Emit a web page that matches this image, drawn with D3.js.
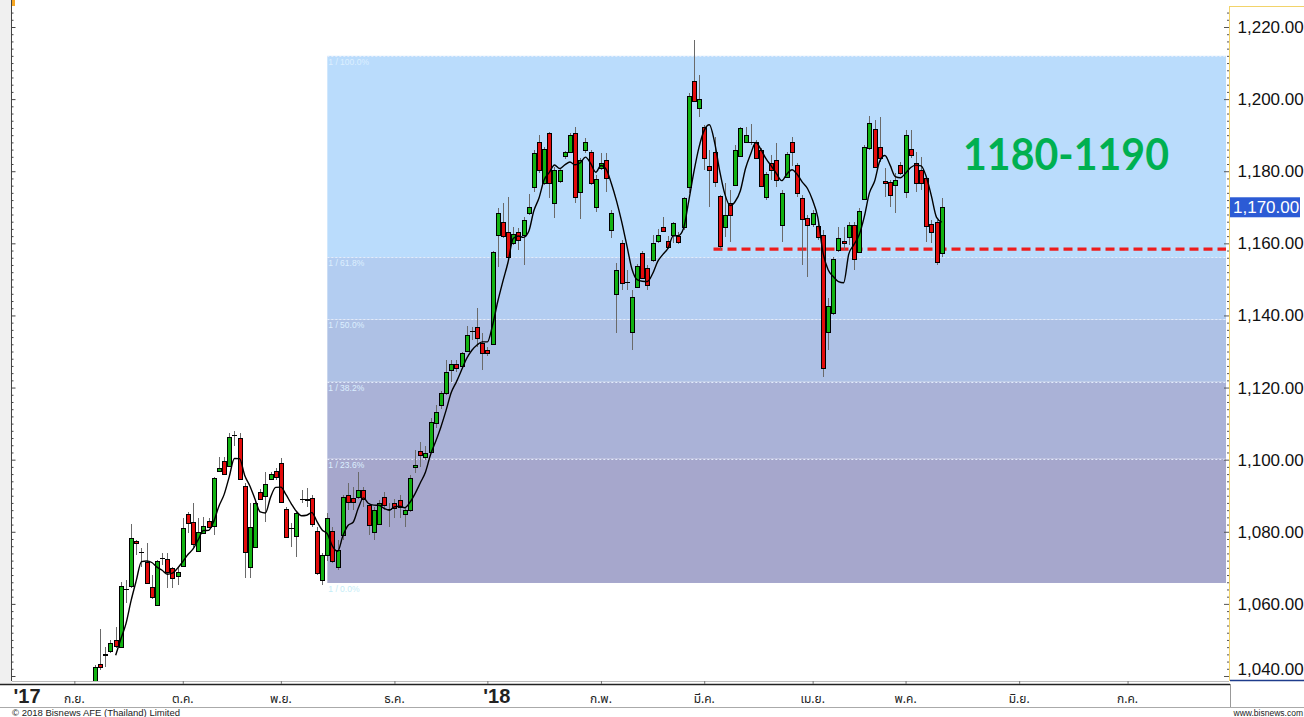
<!DOCTYPE html>
<html>
<head>
<meta charset="utf-8">
<script src="https://cdn.jsdelivr.net/npm/d3@7"></script>
<style>
html, body { margin: 0; padding: 0; background: #fff; overflow: hidden; }
svg { display: block; font-family: "Liberation Sans", Arial, sans-serif; }
</style>
</head>
<body>
<script>
// daily candles (one value per trading day)
var opens = [
  1037, 1043.4, 1046.1, 1047, 1050, 1048.1, 1064, 1065, 1077.5, 1074.4,
  1071.6, 1064.7, 1059.7, 1072.7, 1072.5, 1070, 1067.8, 1070.5, 1085, 1082.7,
  1074.7, 1079.7, 1083, 1081.6, 1096.9, 1099.6, 1098.3, 1106.8, 1106, 1092.7,
  1070.2, 1075.8, 1091, 1089.9, 1094.7, 1096.9, 1099.1, 1086.4, 1081.1, 1078.8,
  1089.1, 1089.1, 1089.4, 1080.2, 1066.6, 1073.6, 1080.2, 1070.2, 1079.1, 1090.2,
  1089.4, 1089.7, 1091.6, 1087.4, 1080, 1082.2, 1089.7, 1086.4, 1088, 1088.8,
  1085, 1086.1, 1098, 1102.4, 1100.8, 1102.1, 1110.2, 1115.2, 1118.5, 1124.9,
  1126.5, 1126, 1130.2, 1135.7, 1136.8, 1132.4, 1130.4, 1132.1, 1162.3, 1165.9,
  1163.1, 1160.1, 1163.1, 1162.3, 1168.4, 1175.6, 1188.1, 1176.7, 1190.6, 1171.2,
  1177.3, 1184.2, 1185.3, 1190.6, 1174.2, 1185.9, 1185.3, 1170.1, 1180.9, 1183.1,
  1163.7, 1146, 1160.1, 1149.3, 1135.4, 1147.9, 1157.3, 1153.2, 1155.4, 1160.7,
  1164.5, 1160.7, 1162.3, 1162, 1164.5, 1175.6, 1205, 1197.5, 1192.3, 1181.5,
  1185.3, 1173.1, 1164.5, 1171.2, 1176.2, 1184.2, 1188.1, 1188.1, 1188.1, 1185.9,
  1172.9, 1182.3, 1183.1, 1165.1, 1178.4, 1188.1, 1181.7, 1172.6, 1167, 1165.4,
  1164.8, 1162.3, 1135.4, 1140.7, 1158.2, 1160.7, 1161.8, 1165.1, 1157.6, 1172.3,
  1186.4, 1191.7, 1186.7, 1177.3, 1177, 1176.2, 1181.7, 1174.2, 1186.2, 1182.3,
  1180.3, 1178.1, 1165.4, 1165.9, 1157.3
];
var highs = [
  1043, 1053, 1048.1, 1050, 1053.6, 1066, 1066.6, 1082.2, 1077.8, 1075.5,
  1076.9, 1068, 1072.2, 1074.1, 1074.1, 1070.3, 1070.3, 1083.8, 1085.5, 1088,
  1083.8, 1084, 1083.8, 1095.2, 1100.8, 1100.8, 1107.4, 1108, 1107.4, 1093.5,
  1088, 1088.8, 1092, 1096.6, 1096.6, 1097.7, 1100.5, 1086.9, 1082.5, 1085.5,
  1091.6, 1092.1, 1090.2, 1081.3, 1074.1, 1085.2, 1081.3, 1077.7, 1090.2, 1093.5,
  1092.4, 1096.6, 1092.4, 1088, 1086.9, 1088.8, 1091, 1088, 1089.1, 1090.2,
  1086.9, 1095.8, 1102.7, 1104.9, 1103.8, 1111.5, 1115.2, 1119, 1127.7, 1127.7,
  1127.7, 1129.9, 1137.1, 1136.8, 1142.1, 1135.1, 1131.3, 1157.9, 1169.8, 1171.2,
  1172.9, 1164.5, 1164.3, 1167.3, 1173.7, 1185.9, 1190.1, 1186.7, 1190.9, 1181.2,
  1180.6, 1185.6, 1190.6, 1192.3, 1183.7, 1189.2, 1185.9, 1179, 1185, 1185,
  1169.3, 1154.6, 1160.9, 1152.6, 1147.1, 1154.3, 1158, 1154, 1162.3, 1164,
  1167.3, 1162, 1165.9, 1163.1, 1172.9, 1201.7, 1216.4, 1206.7, 1192.8, 1185.9,
  1189.5, 1173.4, 1176.7, 1174.8, 1187.3, 1192.3, 1192.3, 1193.1, 1188.7, 1186.4,
  1179.8, 1184.5, 1187.8, 1174.8, 1185.3, 1189.5, 1182.3, 1173.4, 1167.9, 1169.3,
  1165.6, 1163.7, 1144.8, 1156.2, 1164.5, 1164.5, 1165.9, 1165.9, 1169.8, 1187.3,
  1195.3, 1194.2, 1195, 1180.9, 1177.6, 1179.5, 1182.6, 1191.4, 1191.4, 1185.3,
  1184, 1178.4, 1166.5, 1166.5, 1172.6
];
var lows = [
  1035, 1041.7, 1042.5, 1046.4, 1047.8, 1047.8, 1060.3, 1064.5, 1073.6, 1070.3,
  1065.6, 1061.4, 1059.5, 1070.8, 1064.4, 1064.4, 1065.3, 1070.3, 1079.7, 1075.8,
  1074.4, 1079.4, 1081, 1079, 1096.6, 1095.8, 1098, 1103.8, 1094.4, 1067.2,
  1067.2, 1075.5, 1088.8, 1082.7, 1094.4, 1094.4, 1088, 1078.3, 1075.8, 1073,
  1088, 1086.9, 1081.3, 1068, 1065.3, 1072, 1071.4, 1069.4, 1077.7, 1086,
  1086, 1089.1, 1086.9, 1079.1, 1077.7, 1081.9, 1086, 1081.3, 1083.8, 1083.8,
  1081.3, 1085.5, 1096.3, 1098, 1099.9, 1102.1, 1108.8, 1114, 1118, 1121.6,
  1124.3, 1125.7, 1129.9, 1133.2, 1131.3, 1124.9, 1128.7, 1131.8, 1153.4, 1161.5,
  1155.4, 1159.5, 1158.2, 1154, 1167.9, 1174.2, 1179.5, 1176.2, 1172.6, 1167,
  1176.7, 1183.4, 1185, 1171.2, 1166.8, 1185, 1176.2, 1168.7, 1180.3, 1174.2,
  1161.5, 1135.1, 1147.1, 1147.1, 1130.4, 1147.6, 1150, 1147.1, 1154.8, 1160.1,
  1163.1, 1158.5, 1160.1, 1159.8, 1163.7, 1174, 1199.2, 1195, 1180.3, 1170.1,
  1175.6, 1158.2, 1161.8, 1160.4, 1175.9, 1184, 1187.8, 1187.3, 1183.4, 1175.6,
  1172, 1177.6, 1175.6, 1160.4, 1178.1, 1181.5, 1172.9, 1154, 1150.7, 1164.5,
  1160.9, 1122.9, 1130.4, 1140.1, 1157.6, 1158.2, 1159.5, 1152.6, 1157.3, 1172,
  1185.9, 1180.9, 1182.6, 1172.9, 1170.1, 1168.4, 1179, 1172.6, 1183.7, 1174.2,
  1174.8, 1160.4, 1160.1, 1154, 1156.2
];
var closes = [
  1042.5, 1042.5, 1046.2, 1049.2, 1048.3, 1065, 1064, 1078.3, 1077, 1074.4,
  1065.8, 1061.9, 1071.9, 1072.7, 1068.9, 1067.2, 1068.9, 1081, 1082.5, 1076.6,
  1080, 1081.6, 1081.3, 1094.9, 1097.7, 1096, 1106.3, 1106.8, 1094.7, 1074.4,
  1081.3, 1088, 1089.1, 1093.3, 1096, 1095.2, 1088.3, 1078.6, 1081.1, 1085.2,
  1089.1, 1089, 1082.2, 1068.6, 1073.6, 1083.8, 1071.9, 1075, 1089.7, 1088.3,
  1088.3, 1091.6, 1089.1, 1081.9, 1086.1, 1088, 1087.4, 1086.4, 1086.6, 1086.9,
  1086.1, 1094.9, 1098.5, 1101.3, 1101.9, 1110.5, 1113.2, 1118.5, 1124.3, 1126.5,
  1125.4, 1129.6, 1134.6, 1135.7, 1133.8, 1129.6, 1129.6, 1157.6, 1168.4, 1162,
  1156.2, 1162.6, 1160.9, 1166.5, 1170.1, 1185.1, 1180.3, 1186.2, 1176.7, 1180.3,
  1180.3, 1185.3, 1190.1, 1172.9, 1183.1, 1188.1, 1176.7, 1177.8, 1182.3, 1178.1,
  1168.4, 1152.6, 1149, 1149.3, 1145.1, 1153.7, 1150.4, 1148.5, 1160.1, 1162.3,
  1163.4, 1159, 1165.6, 1160.4, 1172.6, 1200.9, 1199.5, 1200, 1183.7, 1180.3,
  1177, 1159.3, 1167.9, 1167.9, 1185.9, 1192, 1190.1, 1188.1, 1183.7, 1175.9,
  1179.2, 1180.3, 1177.6, 1174, 1184.8, 1185.3, 1174, 1166.8, 1165.1, 1168.4,
  1161.8, 1125.4, 1142.6, 1155.7, 1161.5, 1160.1, 1165.1, 1155.7, 1169, 1186.7,
  1193.4, 1181.2, 1183.7, 1176.7, 1173.4, 1177.6, 1179.5, 1190.1, 1184.5, 1176.7,
  1176.7, 1164.8, 1163.1, 1154.8, 1170.1
];

// time axis: position (trading-day index) and label of each month
var monthIdx = [-15, -4, 17, 36, 58, 76, 98, 118, 139, 157, 179, 200];
var monthLabels = ["'17", 'ก.ย.', 'ต.ค.', 'พ.ย.', 'ธ.ค.', "'18", 'ก.พ.', 'มี.ค.', 'เม.ย.', 'พ.ค.', 'มิ.ย.', 'ก.ค.'];

// price axis labels
var priceTicks = [1040, 1060, 1080, 1100, 1120, 1140, 1160, 1180, 1200, 1220];

// fibonacci retracement drawn from the December low to the top
var fibLow = 1065.8, fibHigh = 1212, fibStartIdx = 45;
var fibLevels = [0, 0.236, 0.382, 0.5, 0.618, 1];
var fibColors = ['#a6a7cc', '#aab2d7', '#aec1e5', '#b3cdf1', '#badcfc'];

// support line and target zone text
var supportLevel = 1158.4, supportStartIdx = 119.8;
var lastPrice = 1170;
var targetText = '1180-1190';
var maPeriod = 5;

var W = 1304, H = 717;
var plotL = 12, plotR = 1229, plotB = 681;

var x = d3.scaleLinear().domain([0, 164]).range([95, 941.7]);
var y = d3.scaleLinear().domain([1040, 1220]).range([676, 27]);

var svg = d3.select('body').append('svg')
    .attr('width', W)
    .attr('height', H);

// grey strip at the far left
svg.append('rect').attr('x', 0).attr('y', 0).attr('width', plotL).attr('height', 684).attr('fill', '#f0f0f0');
svg.append('rect').attr('x', 11).attr('y', 0).attr('width', 4).attr('height', 6).attr('fill', '#f5a623');

svg.append('clipPath').attr('id', 'plot')
  .append('rect').attr('x', plotL).attr('y', 0).attr('width', plotR - plotL).attr('height', plotB);

var g = svg.append('g').attr('clip-path', 'url(#plot)');

// fib zones
var fy = function(l) { return y(fibLow + (fibHigh - fibLow) * l); };
var fibX = x(fibStartIdx);
for (var i = 0; i < fibLevels.length - 1; i++) {
  g.append('rect')
    .attr('x', fibX)
    .attr('y', fy(fibLevels[i + 1]))
    .attr('width', 1226 - fibX)
    .attr('height', fy(fibLevels[i]) - fy(fibLevels[i + 1]))
    .attr('fill', fibColors[i]);
}
fibLevels.forEach(function(l) {
  if (l > 0) {
    g.append('line')
      .attr('x1', fibX).attr('x2', 1226)
      .attr('y1', Math.round(fy(l)) + 0.5).attr('y2', Math.round(fy(l)) + 0.5)
      .attr('stroke', '#e4ecfb').attr('stroke-width', 1).attr('stroke-dasharray', '2,2');
  }
  g.append('text')
    .attr('x', fibX + 1)
    .attr('y', fy(l) + 9)
    .attr('font-size', 8.5)
    .attr('fill', l === 0 ? '#c4ecf6' : '#dcefff')
    .text('1 / ' + (l * 100).toFixed(1) + '%');
});

// support line
g.append('line')
  .attr('x1', x(supportStartIdx)).attr('x2', 1226)
  .attr('y1', y(supportLevel)).attr('y2', y(supportLevel))
  .attr('stroke', '#ee1c1c').attr('stroke-width', 3.2).attr('stroke-dasharray', '9,5');

// candles
var idx = d3.range(closes.length);
var cx = function(i) { return Math.round(x(i)) + 0.5; };

g.append('g').selectAll('line')
  .data(idx).enter().append('line')
  .attr('x1', cx).attr('x2', cx)
  .attr('y1', function(i) { return y(highs[i]); })
  .attr('y2', function(i) { return y(lows[i]); })
  .attr('stroke', '#6a6a6a').attr('stroke-width', 1)
  .attr('shape-rendering', 'crispEdges');

var bodies = g.append('g');
idx.forEach(function(i) {
  var o = opens[i], c = closes[i];
  if (o === c) {
    bodies.append('line')
      .attr('x1', cx(i) - 2.5).attr('x2', cx(i) + 2.5)
      .attr('y1', Math.round(y(o)) + 0.5).attr('y2', Math.round(y(o)) + 0.5)
      .attr('stroke', '#000').attr('stroke-width', 1)
      .attr('shape-rendering', 'crispEdges');
    return;
  }
  var top = Math.round(y(Math.max(o, c))), bot = Math.round(y(Math.min(o, c)));
  bodies.append('rect')
    .attr('x', cx(i) - 2)
    .attr('y', top + 0.5)
    .attr('width', 4)
    .attr('height', Math.max(1, bot - top))
    .attr('fill', c > o ? '#12b312' : '#e30b0b')
    .attr('stroke', '#000').attr('stroke-width', 1)
    .attr('shape-rendering', 'crispEdges');
});

// moving average of closes
var ma = [];
for (var k = maPeriod - 1; k < closes.length; k++) {
  ma.push({i: k, v: d3.mean(closes.slice(k - maPeriod + 1, k + 1))});
}
g.append('path')
  .datum(ma)
  .attr('d', d3.line().x(function(d) { return x(d.i); }).y(function(d) { return y(d.v); }).curve(d3.curveMonotoneX))
  .attr('fill', 'none').attr('stroke', '#000').attr('stroke-width', 1.4);

g.append('text')
  .attr('x', 963).attr('y', 170)
  .attr('font-family', 'Lato, "Open Sans", sans-serif')
  .attr('font-weight', 'bold')
  .attr('font-size', 44)
  .attr('textLength', 206).attr('lengthAdjust', 'spacingAndGlyphs')
  .attr('fill', '#00b050')
  .text(targetText);

// left axis: small ticks only
var minorTicks = d3.range(1040, 1226, 2);
svg.append('g')
  .attr('transform', 'translate(11.5,0)')
  .call(d3.axisRight(y).tickValues(minorTicks).tickSize(2).tickFormat(''))
  .call(function(a) {
    a.select('.domain').attr('d', 'M0,0V' + plotB).attr('stroke', '#444');
    a.selectAll('.tick line').attr('stroke', '#444')
      .filter(function(d) { return d % 20 === 0; }).attr('x2', 4);
  });

// right axis
svg.append('line').attr('x1', 1229.5).attr('x2', 1229.5).attr('y1', 6).attr('y2', plotB)
  .attr('stroke', '#f2d36a').attr('stroke-width', 1);
svg.append('line').attr('x1', 1229).attr('x2', W).attr('y1', 6.5).attr('y2', 6.5)
  .attr('stroke', '#f2d36a').attr('stroke-width', 1);
svg.append('g')
  .attr('transform', 'translate(1229,0)')
  .call(d3.axisLeft(y).tickValues(minorTicks).tickSize(2).tickFormat(''))
  .call(function(a) {
    a.select('.domain').remove();
    a.selectAll('.tick line').attr('stroke', '#555')
      .filter(function(d) { return d % 20 === 0; }).attr('x2', -5);
  });
svg.append('g')
  .attr('transform', 'translate(1229.5,0)')
  .call(d3.axisRight(y).tickValues(priceTicks).tickSize(0).tickPadding(8).tickFormat(d3.format(',.2f')))
  .call(function(a) {
    a.select('.domain').remove();
    a.selectAll('.tick text')
      .attr('font-family', '"Liberation Sans", Arial, sans-serif')
      .attr('font-size', 17).attr('fill', '#111')
      .filter(function(d) { return d === 1040; }).attr('dy', '-0.1em');
  });
svg.append('line').attr('x1', 1230).attr('x2', W).attr('y1', 680.5).attr('y2', 680.5)
  .attr('stroke', '#1e3c8c').attr('stroke-width', 1.5);

// last price tag
svg.append('rect')
  .attr('x', 1230).attr('y', y(lastPrice) - 10)
  .attr('width', 70).attr('height', 20)
  .attr('fill', '#2c5bd5');
svg.append('text')
  .attr('x', 1233).attr('y', y(lastPrice) + 6)
  .attr('font-size', 17).attr('fill', '#fff')
  .text(d3.format(',.2f')(lastPrice));

// time axis
svg.append('line').attr('x1', plotL).attr('x2', plotR).attr('y1', 681.5).attr('y2', 681.5)
  .attr('stroke', '#bbb');
svg.append('line').attr('x1', 0).attr('x2', 1230).attr('y1', 684.5).attr('y2', 684.5)
  .attr('stroke', '#222').attr('stroke-width', 1.5);
svg.append('line').attr('x1', 1230.5).attr('x2', 1230.5).attr('y1', 684).attr('y2', 707)
  .attr('stroke', '#999');
svg.append('line').attr('x1', 0).attr('x2', W).attr('y1', 707.5).attr('y2', 707.5)
  .attr('stroke', '#aaa');

var xa = svg.append('g')
  .attr('transform', 'translate(0,684)')
  .call(d3.axisTop(x).tickValues(monthIdx.slice(1)).tickSize(3).tickFormat(''));
xa.select('.domain').remove();
xa.selectAll('.tick line').attr('stroke', '#777');

svg.append('g').selectAll('text')
  .data(monthIdx).enter().append('text')
  .attr('x', function(d, i) { return monthLabels[i][0] === "'" ? x(d) - 4 : x(d); })
  .attr('y', 703)
  .attr('text-anchor', function(d, i) { return monthLabels[i][0] === "'" ? 'start' : 'middle'; })
  .attr('font-family', function(d, i) { return monthLabels[i][0] === "'" ? '"Liberation Sans", Arial, sans-serif' : '"Noto Sans Thai", Tahoma, "DejaVu Sans", sans-serif'; })
  .attr('font-weight', function(d, i) { return monthLabels[i][0] === "'" ? 'bold' : 'normal'; })
  .attr('font-size', function(d, i) { return monthLabels[i][0] === "'" ? 20 : 12; })
  .attr('fill', '#222')
  .text(function(d, i) { return monthLabels[i]; });

// footer
svg.append('text').attr('x', 12).attr('y', 716).attr('font-size', 9.5).attr('fill', '#222')
  .text('© 2018 Bisnews AFE (Thailand) Limited');
svg.append('text').attr('x', W - 1).attr('y', 716).attr('text-anchor', 'end').attr('font-size', 8.5).attr('fill', '#222')
  .text('www.bisnews.com');
</script>
</body>
</html>
